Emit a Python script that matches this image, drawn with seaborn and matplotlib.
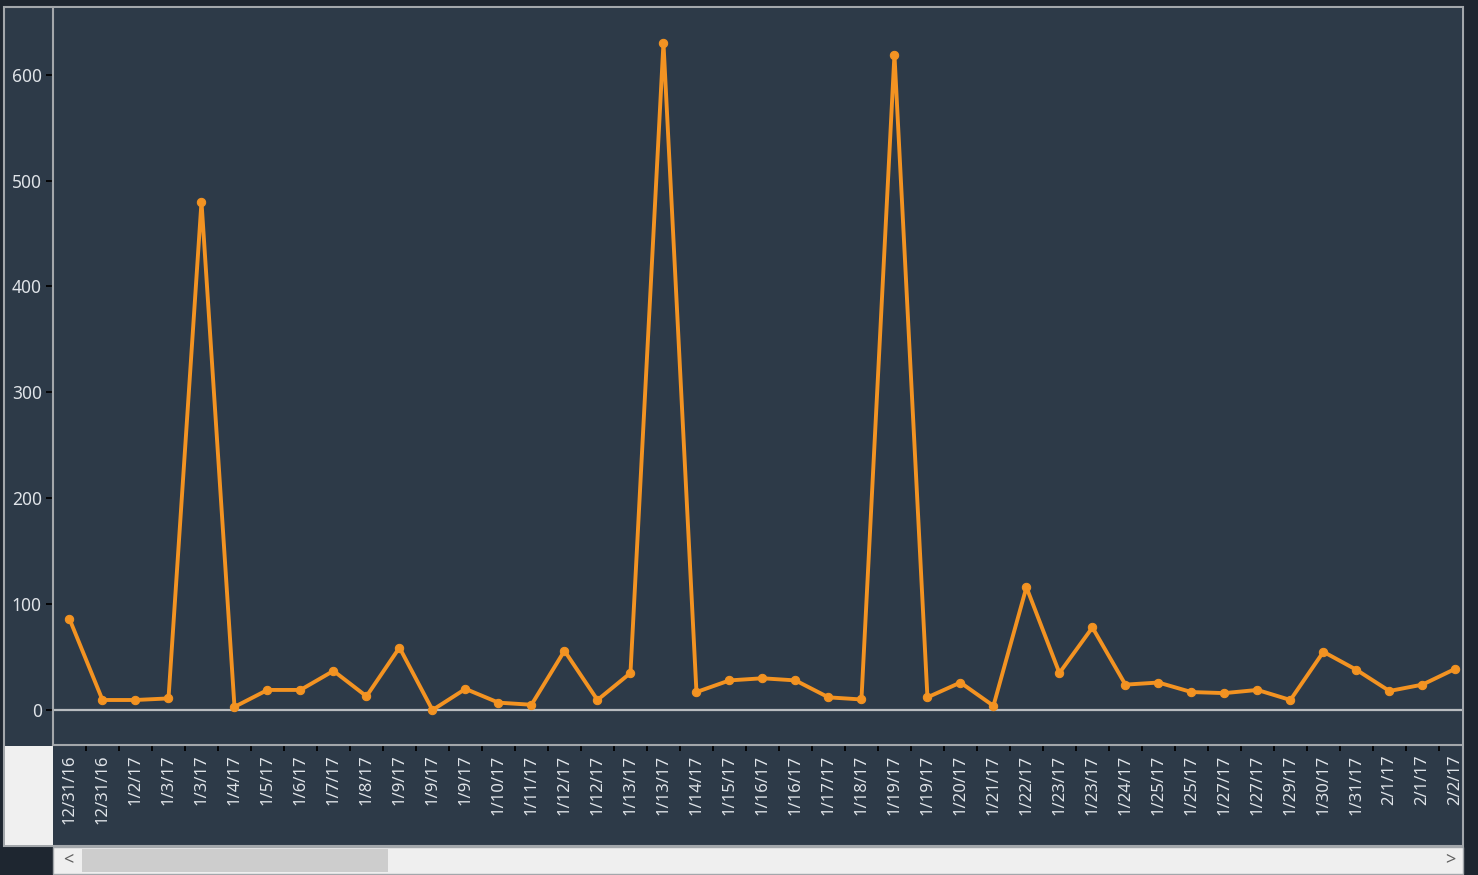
import matplotlib
matplotlib.use("Agg")
import matplotlib.pyplot as plt
from matplotlib.patches import Rectangle
import seaborn as sns
import pandas as pd

# ---- data ----
dates = ["12/31/16", "12/31/16", "1/2/17", "1/3/17", "1/3/17", "1/4/17", "1/5/17",
         "1/6/17", "1/7/17", "1/8/17", "1/9/17", "1/9/17", "1/9/17", "1/10/17",
         "1/11/17", "1/12/17", "1/12/17", "1/13/17", "1/13/17", "1/14/17", "1/15/17",
         "1/16/17", "1/16/17", "1/17/17", "1/18/17", "1/19/17", "1/19/17", "1/20/17",
         "1/21/17", "1/22/17", "1/23/17", "1/23/17", "1/24/17", "1/25/17", "1/25/17",
         "1/27/17", "1/27/17", "1/29/17", "1/30/17", "1/31/17", "2/1/17", "2/1/17",
         "2/2/17"]
values = [86, 9.5, 9.5, 11, 480, 3, 19, 19, 37, 13, 59, 0, 20, 7, 5, 56, 9.5, 35,
          630, 17, 28, 30, 28, 12, 10, 619, 12, 26, 4, 116, 35, 78, 24, 26, 17, 16,
          19, 9.5, 55, 38, 18, 24, 39]
y_ticks = [0, 100, 200, 300, 400, 500, 600]

PANEL = "#2d3a48"
ORANGE = "#f39322"
BORDER = "#a3a7ab"
TEXT = "#dfe3e8"
OUTER = "#1e2630"

sns.set_style("dark")
plt.rcParams["font.family"] = ["Noto Sans", "DejaVu Sans"]

W, H = 1478, 875
fig = plt.figure(figsize=(W / 100, H / 100), dpi=100, facecolor=OUTER)


def rect(x0, y0, x1, y1, z, **kw):
    fig.patches.append(Rectangle((x0 / W, 1 - y1 / H), (x1 - x0) / W, (y1 - y0) / H,
                                 transform=fig.transFigure, figure=fig, zorder=z, **kw))


# frame decorations
rect(4, 7, 1463, 846, -5, facecolor=PANEL, edgecolor=BORDER, linewidth=1.5)
rect(5, 746, 53, 845, -4, facecolor="#f0f0f0", edgecolor="none")
rect(53, 847, 1463, 874, -4, facecolor="#efefef", edgecolor=BORDER, linewidth=1.0)
rect(82, 849, 388, 872, -3, facecolor="#cdcdcd", edgecolor="none")
fig.text(68 / W, 1 - 860 / H, "<", ha="center", va="center", fontsize=13,
         color="#606060", fontweight="bold")
fig.text(1450 / W, 1 - 860 / H, ">", ha="center", va="center", fontsize=13,
         color="#606060", fontweight="bold")

# main axes
ax = fig.add_axes([53 / W, (H - 745) / H, (1462 - 53) / W, (745 - 8) / H])
ax.set_zorder(1)
ax.set_facecolor(PANEL)

df = pd.DataFrame({"idx": list(range(len(values))), "value": values})
ax.axhline(0, color="#b8bcc0", linewidth=1.6, zorder=1)
sns.lineplot(data=df, x="idx", y="value", ax=ax, color=ORANGE, linewidth=2.8,
             marker="o", markersize=6, markeredgecolor=ORANGE, zorder=3)

ax.set_xlim(-0.5, len(values) - 0.8)
ax.set_ylim(-33, 663)
ax.set_xlabel("")
ax.set_ylabel("")
ax.grid(False)

ax.set_xticks(list(range(len(dates))))
ax.set_xticklabels(dates, rotation=90, fontsize=12, color=TEXT)
ax.set_xticks([i + 0.5 for i in range(len(dates) - 1)], minor=True)
ax.tick_params(axis="x", which="major", length=0, pad=7)
ax.tick_params(axis="x", which="minor", length=4, width=1.3, color="black",
               direction="out", bottom=True)
ax.set_yticks(y_ticks)
ax.set_yticklabels([str(v) for v in y_ticks], fontsize=12.5, color=TEXT)
ax.tick_params(axis="y", length=5, width=1.3, color="black", pad=3, left=True)

for side in ["top", "right"]:
    ax.spines[side].set_visible(False)
ax.spines["left"].set_color(BORDER)
ax.spines["left"].set_linewidth(1.5)
ax.spines["bottom"].set_color(BORDER)
ax.spines["bottom"].set_linewidth(1.5)

fig.savefig("out.png", dpi=100, facecolor=OUTER)
